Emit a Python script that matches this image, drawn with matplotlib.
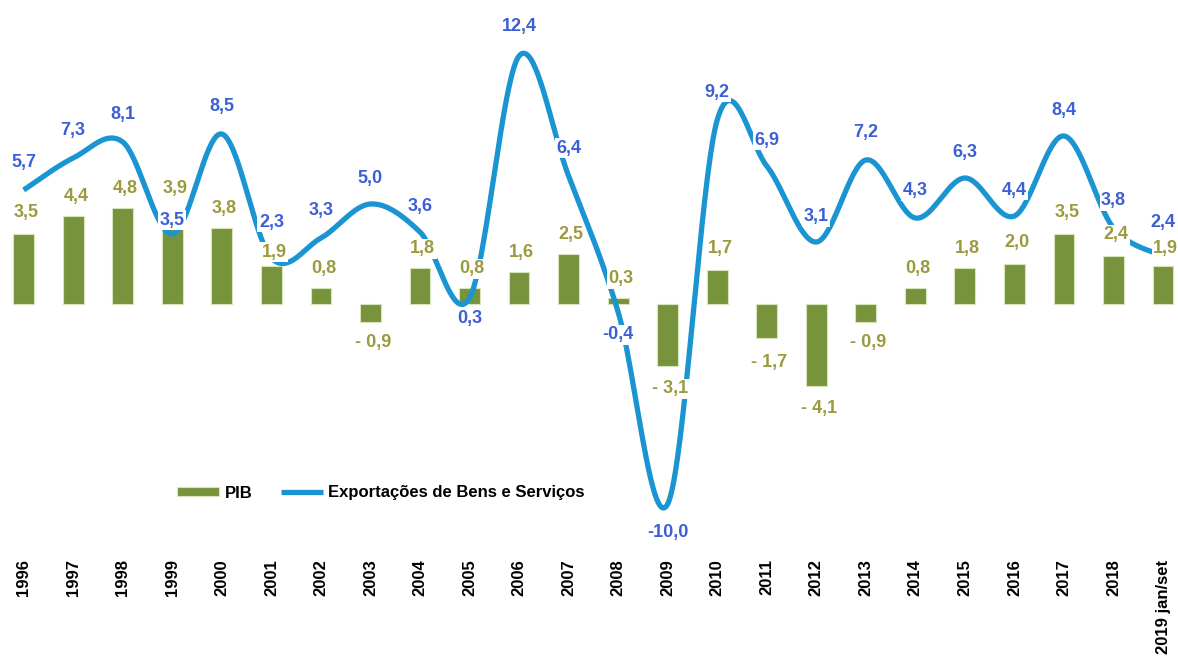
import numpy as np
import matplotlib.pyplot as plt

plt.rcParams['font.family'] = ['Liberation Sans', 'DejaVu Sans']

anos = ['1996', '1997', '1998', '1999', '2000', '2001', '2002', '2003', '2004', '2005',
        '2006', '2007', '2008', '2009', '2010', '2011', '2012', '2013', '2014', '2015',
        '2016', '2017', '2018', '2019 jan/set']
pib = [3.5, 4.4, 4.8, 3.9, 3.8, 1.9, 0.8, -0.9, 1.8, 0.8, 1.6, 2.5, 0.3, -3.1,
       1.7, -1.7, -4.1, -0.9, 0.8, 1.8, 2.0, 3.5, 2.4, 1.9]
exportacoes = [5.7, 7.3, 8.1, 3.5, 8.5, 2.3, 3.3, 5.0, 3.6, 0.3, 12.4, 6.4, -0.4, -10.0,
               9.2, 6.9, 3.1, 7.2, 4.3, 6.3, 4.4, 8.4, 3.8, 2.4]

# label offsets (pixels away from the end of the mark, + = up)
off_export = [27, 27, 28, 14, 28, 36, 27, 25, 26, -20, 29, 28, -23, -29,
              28, 26, 25, 27, 27, 26, 26, 26, 27, 33]
off_pib = [21, 20, 20, 37, 19, 14, 20, -20, 19, 19, 20, 19, 19, -23,
           21, -24, -23, -21, 19, 20, 21, 21, 21, 18]

cor_barra = '#77933c'
cor_txt_barra = '#9c9a3e'
cor_linha = '#1b95d2'
cor_txt_linha = '#3d5fd6'


def suaviza(xs, ys, n=40):
    # excel style smoothed line (catmull-rom bezier)
    pts = np.column_stack([xs, ys]).astype(float)
    P = np.vstack([pts[0], pts, pts[-1]])
    t = np.linspace(0, 1, n)[:, None]
    out = []
    for i in range(1, len(P) - 2):
        p0, p1, p2, p3 = P[i - 1], P[i], P[i + 1], P[i + 2]
        c1 = p1 + (p2 - p0) / 6
        c2 = p2 - (p3 - p1) / 6
        out.append((1 - t)**3 * p1 + 3 * (1 - t)**2 * t * c1 + 3 * (1 - t) * t**2 * c2 + t**3 * p2)
    return np.vstack(out)


W, H = 1178, 660
fig = plt.figure(figsize=(W / 100, H / 100), dpi=100)
ax = fig.add_axes([1.4 / W, (H - 558) / H, (1177.9 - 1.4) / W, (558 - 10) / H])

x = np.arange(len(anos))
barras = ax.bar(x, pib, width=0.42, color=cor_barra, edgecolor='#d8e4bc', linewidth=0.8,
                zorder=1, label='PIB')

curva = suaviza(x, exportacoes)
linha, = ax.plot(curva[:, 0], curva[:, 1], color=cor_linha, lw=3.8, solid_capstyle='butt',
                 zorder=2, label='Exportações de Bens e Serviços')

for xi, v, dy in zip(x, exportacoes, off_export):
    txt = f'{v:.1f}'.replace('.', ',')
    ax.annotate(txt, (xi, v), xytext=(0, dy * 0.72), textcoords='offset points',
                ha='center', va='center', fontsize=13, fontweight='bold',
                color=cor_txt_linha, zorder=3,
                bbox=dict(fc='white', ec='none', pad=1))

for xi, v, dy in zip(x, pib, off_pib):
    txt = f'{abs(v):.1f}'.replace('.', ',')
    if v < 0:
        txt = '- ' + txt
    ax.annotate(txt, (xi, v), xytext=(2, dy * 0.72), textcoords='offset points',
                ha='center', va='center', fontsize=13, fontweight='bold',
                color=cor_txt_barra, zorder=4,
                bbox=dict(fc='white', ec='none', pad=1))

ax.set_xlim(-0.45, 23.3)
ax.set_ylim(-(558 - 304) / 20, (304 - 10) / 20)
ax.set_xticks(x, anos, rotation=90, fontweight='bold', fontsize=12)
ax.tick_params(axis='x', length=0, pad=1)
ax.set_yticks([])
for s in ax.spines.values():
    s.set_visible(False)

ax.legend([barras, linha], ['PIB', 'Exportações de Bens e Serviços'],
          loc='center left', bbox_to_anchor=(169 / W, (H - 493) / H),
          bbox_transform=fig.transFigure, ncol=2, frameon=False, borderpad=0,
          handlelength=2.5, handleheight=0.5, handletextpad=0.35, columnspacing=1.7,
          prop={'weight': 'bold', 'size': 12})

fig.savefig('out.png', dpi=100)
